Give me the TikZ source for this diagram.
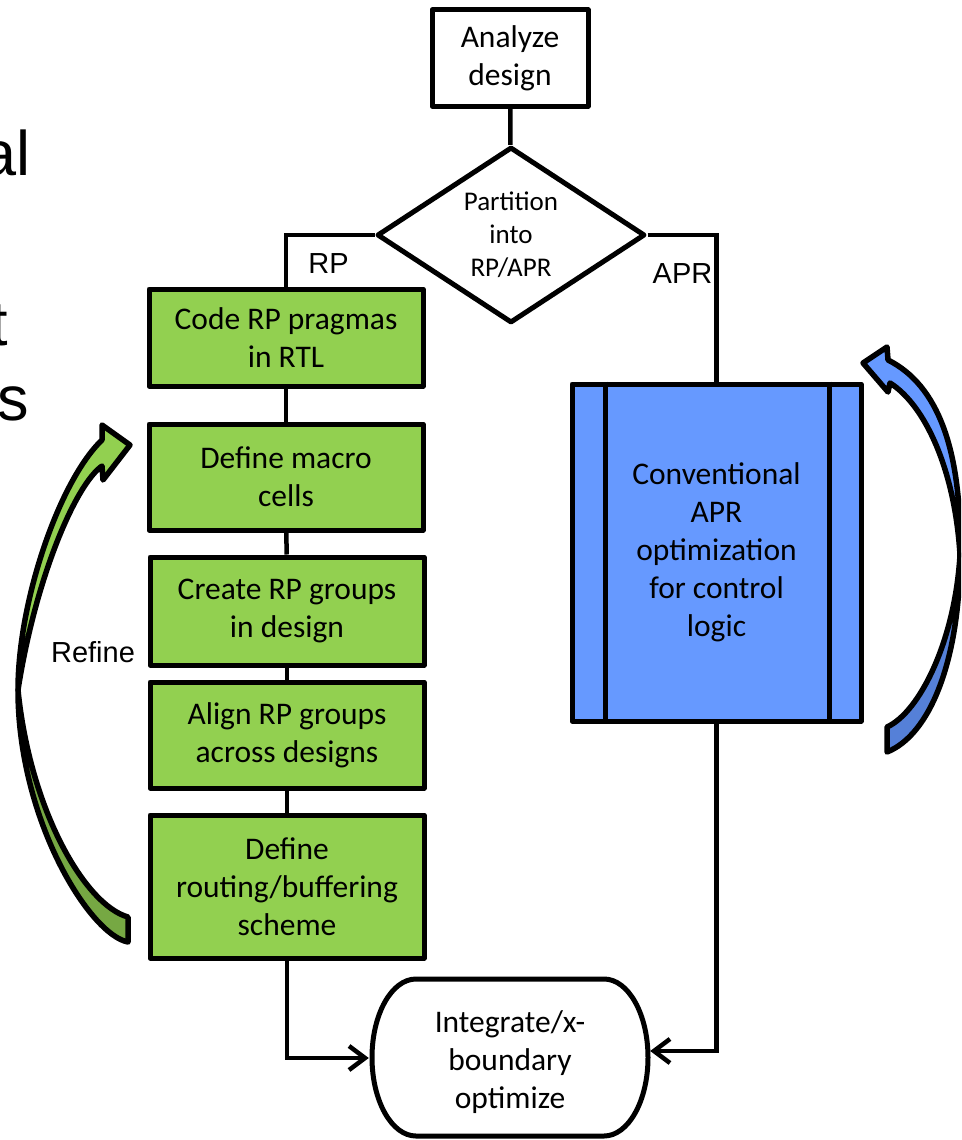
\documentclass[tikz,border=0pt]{standalone}
\usepackage{fontspec}
\setmainfont{Carlito}
\newfontfamily\arialfont{Liberation Sans}
\usetikzlibrary{shapes.geometric,arrows.meta}
\definecolor{gfill}{HTML}{92D050}
\definecolor{gdark}{HTML}{76A843}
\definecolor{bfill}{HTML}{6699FF}
\definecolor{bdark}{HTML}{5580D8}
\begin{document}
\begin{tikzpicture}[x=1pt,y=-1pt,
  box/.style={draw, line width=5pt, line join=round, align=center, inner sep=0pt,
    font=\fontsize{31.5}{38}\selectfont},
  greenbox/.style={box, fill=gfill, minimum width=274},
  conn/.style={line width=4.5pt},
  arr/.style={conn, -{Straight Barb[length=16pt,width=24pt]}},
  lbl/.style={font=\arialfont\fontsize{29}{34}\selectfont, inner sep=0pt, anchor=base},
  bigtxt/.style={font=\arialfont\fontsize{63}{70}\selectfont, inner sep=0pt, anchor=base east},
  curvarrow/.style={draw, line width=5.5pt, line join=round}
]
\useasboundingbox (0,0) rectangle (961,1140);
\clip (0,0) rectangle (961,1140);

% partial slide text at the left edge
\node[bigtxt] (ta) at (31,175) {al};
\node[bigtxt] (tb) at (8,345) {t};
\node[bigtxt] (tc) at (29.5,420) {s};

% top
\node[box, minimum width=156, minimum height=96] (an) at (510,58) {Analyze\\design};
\node[draw, diamond, line width=5pt, line join=round, minimum width=268, minimum height=176,
  aspect=1.5, inner sep=0pt, align=center, font=\fontsize{27}{33}\selectfont]
  (part) at (511,235) {Partition\\into\\RP/APR};

% green column
\node[greenbox, minimum height=97]  (code)   at (286,337.5) {Code RP pragmas\\in RTL};
\node[greenbox, minimum height=106] (macro)  at (286,477)   {Define macro\\cells};
\node[greenbox, minimum height=108] (create) at (287,611)   {Create RP groups\\in design};
\node[greenbox, minimum height=106] (align)  at (287,735)   {Align RP groups\\across designs};
\node[greenbox, minimum height=143] (route)  at (287,886.5) {Define\\routing/buffering\\scheme};

% blue box
\node[box, fill=bfill, minimum width=289, minimum height=337] (apr) at (716.5,552.5)
  {Conventional\\APR\\optimization\\for control\\logic};
\draw[line width=5pt] ([xshift=36pt]apr.north west) -- ([xshift=36pt]apr.south west);
\draw[line width=5pt] ([xshift=-34pt]apr.north east) -- ([xshift=-34pt]apr.south east);

% integrate terminator
\path[draw, fill=white, line width=5pt]
  (416,979) -- (604,979)
  .. controls (628.3,979) and (648,1014.1) .. (648,1057.5)
  .. controls (648,1100.9) and (628.3,1136) .. (604,1136)
  -- (416,1136)
  .. controls (391.7,1136) and (372,1100.9) .. (372,1057.5)
  .. controls (372,1014.1) and (391.7,979) .. (416,979) -- cycle;
\node[inner sep=0pt, minimum width=276, minimum height=157, align=center,
  font=\fontsize{31.5}{38}\selectfont] (int) at (510,1062) {Integrate/x-\\boundary\\optimize};

% connectors
\draw[conn] (an) -- (part);
\draw[conn] (part.west) -| (code.north);
\draw[conn] (part.east) -| (apr.north);
\draw[conn] (code) -- (macro);
\draw[conn] (macro) -- (create);
\draw[conn] (create) -- (align);
\draw[conn] (align) -- (route);
\draw[arr] (route.south) |- ([xshift=-3pt,yshift=4pt]int.west);
\draw[arr] (apr.south) |- ([xshift=2pt,yshift=11pt]int.east);

% labels
\node[lbl] (lrp)  at (328.5,273) {RP};
\node[lbl] (lapr) at (682.5,283) {APR};
\node[lbl] (lref) at (93,662) {Refine};

% green curved arrow
\path[curvarrow, fill=gfill]
  (18,690) .. controls (18,600) and (60,480) .. (102,440)
  -- (102,425) -- (130,445) -- (103,480) -- (102,466)
  .. controls (75,485) and (35,580) .. (18,690) -- cycle;
\path[curvarrow, fill=gdark]
  (18,690) .. controls (18,820) and (90,935) .. (128,942)
  -- (128,917) .. controls (85,905) and (30,810) .. (18,690) -- cycle;

% blue curved arrow
\path[curvarrow, fill=bfill]
  (960,555) .. controls (962,450) and (938,385) .. (888,360)
  -- (887,347) -- (863,363) -- (888,392) -- (890,383)
  .. controls (925,405) and (955,470) .. (960,555) -- cycle;
\path[curvarrow, fill=bdark]
  (960,555) .. controls (960,660) and (930,735) .. (887,752)
  -- (887,727) .. controls (920,712) and (955,640) .. (960,555) -- cycle;
\end{tikzpicture}
\end{document}
